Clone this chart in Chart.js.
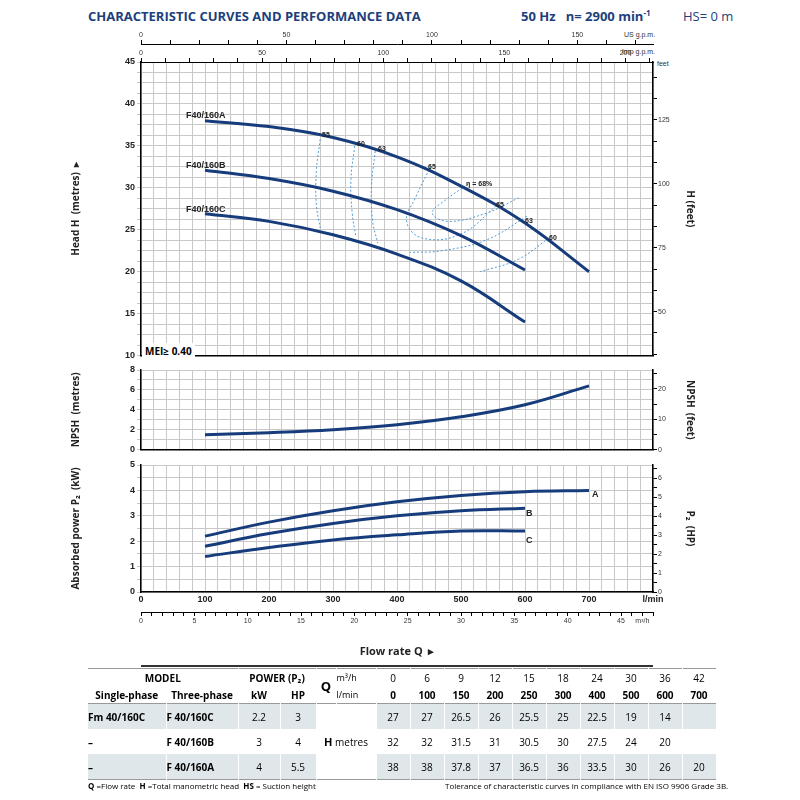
<!DOCTYPE html>
<html><head><meta charset="utf-8">
<script src="https://cdn.jsdelivr.net/npm/chart.js@4/dist/chart.umd.min.js"></script>
<style>
body{margin:0;width:800px;height:800px;background:#fff;font-family:"Open Sans",Arial,sans-serif;position:relative;overflow:hidden}
.abs{position:absolute}
canvas{position:absolute}
.lbl{position:absolute;font:bold 9px "Liberation Sans Narrow","Liberation Sans",Arial;color:#222}
.eff{position:absolute;font:bold 7px "Liberation Sans";color:#222}
table{border-collapse:collapse;font-size:10px;font-family:"Open Sans";table-layout:fixed;line-height:12px}
td{text-align:center;padding:0;border-right:1px solid #fff;overflow:hidden;white-space:nowrap}
.sh td{background:#dfe7ea}
.hd td{height:17px}
.dt td{height:25px}
</style></head><body>
<div class="abs" style="left:88px;top:7px;font:bold 13px 'Open Sans';color:#1d3f7c">CHARACTERISTIC CURVES AND PERFORMANCE DATA</div>
<div class="abs" style="left:521px;top:7px;font:bold 13px 'Open Sans';color:#1d3f7c">50 Hz &nbsp;&nbsp;n= 2900 min<sup style="font-size:8px">-1</sup></div>
<div class="abs" style="left:683px;top:7px;font:13px 'Open Sans';color:#1d3f7c">HS= 0 m</div>
<div class="abs" style="left:624px;top:31px;font:7px 'Liberation Sans';color:#333;background:#fff">US g.p.m.</div>
<div class="abs" style="left:622px;top:48px;font:7px 'Liberation Sans';color:#333;background:#fff">Imp g.p.m.</div>
<div class="abs" style="left:657px;top:60px;font:7px 'Liberation Sans';color:#333">feet</div>
<canvas id="head" style="left:70px;top:25px"></canvas>
<canvas id="npsh" style="left:70px;top:362px"></canvas>
<canvas id="pow" style="left:70px;top:457px"></canvas>
<div class="abs" style="left:142px;top:343px;background:#fff;font:bold 10px 'Open Sans';padding:1px 3px">MEI≥ 0.40</div>
<div class="lbl" style="left:186px;top:110px">F40/160A</div>
<div class="lbl" style="left:186px;top:160px">F40/160B</div>
<div class="lbl" style="left:186px;top:204px">F40/160C</div>
<div class="eff" style="left:322px;top:131px">55</div>
<div class="eff" style="left:357px;top:140px">60</div>
<div class="eff" style="left:378px;top:145px">63</div>
<div class="eff" style="left:428px;top:163px">65</div>
<div class="eff" style="left:466px;top:180px">η = 68%</div>
<div class="eff" style="left:496px;top:201px">65</div>
<div class="eff" style="left:525px;top:217px">63</div>
<div class="eff" style="left:549px;top:234px">60</div>
<div class="lbl" style="left:592px;top:489px">A</div>
<div class="lbl" style="left:526px;top:508px">B</div>
<div class="lbl" style="left:526px;top:535px">C</div>
<div class="abs" style="left:141px;top:665px;width:512px;border-top:2px solid #333"></div>
<table class="abs" style="left:88px;top:668px;width:628px">
<colgroup><col style="width:78px"><col style="width:72px"><col style="width:42px"><col style="width:36px"><col style="width:20px"><col style="width:40px">
<col span="10" style="width:34px"></colgroup>
<tr class="hd" style="border-top:1px solid #999"><td colspan="2" style="font-weight:bold">MODEL</td><td colspan="2" style="font-weight:bold">POWER (P₂)</td><td rowspan="2" style="font-weight:bold;font-size:13px">Q</td><td style="font-size:9px;text-align:left">m³/h</td>
<td>0</td><td>6</td><td>9</td><td>12</td><td>15</td><td>18</td><td>24</td><td>30</td><td>36</td><td>42</td></tr>
<tr class="hd" style="font-weight:bold;border-bottom:1px solid #999"><td>Single-phase</td><td>Three-phase</td><td>kW</td><td>HP</td><td style="font-weight:normal;font-size:9px;text-align:left">l/min</td>
<td>0</td><td>100</td><td>150</td><td>200</td><td>250</td><td>300</td><td>400</td><td>500</td><td>600</td><td>700</td></tr>
<tr class="sh dt"><td style="font-weight:bold;text-align:left">Fm 40/160C</td><td style="font-weight:bold;text-align:left">F 40/160C</td><td>2.2</td><td>3</td><td colspan="2" rowspan="3" style="background:#fff;font-size:10px"><b style="font-size:11px">H</b> metres</td>
<td>27</td><td>27</td><td>26.5</td><td>26</td><td>25.5</td><td>25</td><td>22.5</td><td>19</td><td>14</td><td></td></tr>
<tr class="dt"><td style="font-weight:bold;text-align:left">–</td><td style="font-weight:bold;text-align:left">F 40/160B</td><td>3</td><td>4</td>
<td>32</td><td>32</td><td>31.5</td><td>31</td><td>30.5</td><td>30</td><td>27.5</td><td>24</td><td>20</td><td></td></tr>
<tr class="sh dt" style="border-bottom:1px solid #999"><td style="font-weight:bold;text-align:left">–</td><td style="font-weight:bold;text-align:left">F 40/160A</td><td>4</td><td>5.5</td>
<td>38</td><td>38</td><td>37.8</td><td>37</td><td>36.5</td><td>36</td><td>33.5</td><td>30</td><td>26</td><td>20</td></tr>
</table>
<div class="abs" style="left:88px;top:780px;font:8px 'Open Sans'"><b>Q</b> =Flow rate &nbsp;<b>H</b> =Total manometric head &nbsp;<b>HS</b> = Suction height</div>
<div class="abs" style="left:445px;top:780px;font:8px 'Open Sans'">Tolerance of characteristic curves in compliance with EN ISO 9906 Grade 3B.</div>
<script>
// data
const qA = [100, 200, 300, 400, 500, 600, 700];
const hA = [38, 37.3, 36, 33.7, 30.2, 25.8, 20];
const qBC = [100, 200, 300, 400, 500, 600];
const hB = [32.1, 31.1, 29.6, 27.4, 24.3, 20.2];
const hC = [26.9, 26, 24.4, 22.1, 18.9, 14];
const qN = [100, 200, 300, 400, 500, 600, 700];
const npsh = [1.5, 1.7, 2.0, 2.5, 3.3, 4.5, 6.4];
const pA = [2.2, 2.75, 3.2, 3.55, 3.8, 3.95, 4.0];
const pB = [1.8, 2.3, 2.7, 3.0, 3.2, 3.3];
const pC = [1.4, 1.75, 2.05, 2.25, 2.4, 2.4];
// iso-efficiency contours [Q, H]
const eff55 = [[280,35.8],[274,32],[274,28],[280,25.2]];
const eff60 = [[334,35],[328,31],[330,27],[336,24.1]];
const eff63 = [[366,34.4],[360,30],[362,26],[370,23.4]];
const eff65 = [[453,32.6],[430,29],[415,26],[440,24],[500,24.5],[560,28.2]];
const eff68 = [[512,30.5],[475,28.5],[455,27],[480,26],[540,27],[590,28.8]];
const eff63r = [[603,26.6],[540,23.8],[470,22.5],[420,22.3]];
const eff60r = [[642,24.3],[590,21.5],[530,20]];

const BLUE = '#163c7c', GRID = '#c8c8c8';
const pts = (xs, ys) => xs.map((x, i) => ({x, y: ys[i]}));
const pairs = a => a.map(p => ({x: p[0], y: p[1]}));
const fnt = {family: 'Liberation Sans', size: 9, weight: 'bold'};
const small = {family: 'Liberation Sans', size: 7};

function fitW(w) { return s => { s.width = w; }; }
function fitH(h) { return s => { s.height = h; }; }
function curve(data, dashed) {
  return dashed
    ? {data, borderColor: '#4f9bd4', borderWidth: 1, borderDash: [2, 2], pointRadius: 0, tension: 0.4, showLine: true}
    : {data, borderColor: BLUE, borderWidth: 3, pointRadius: 0, tension: 0.4, showLine: true};
}
function xMain() {
  return {type: 'linear', min: 0, max: 800, afterBuildTicks: s => { s.ticks = []; for (let v = 0; v <= 800; v += 20) s.ticks.push({value: v}); },
    grid: {color: GRID, tickLength: 0}, border: {color: '#000', width: 1.5}, ticks: {display: false}, afterFit: fitH(2)};
}
function yLeft(min, max, minor, major, title, w) {
  return {position: 'left', min, max,
    afterBuildTicks: s => { s.ticks = []; for (let v = min; v <= max + 1e-6; v += minor) s.ticks.push({value: +v.toFixed(3)}); },
    grid: {color: GRID, tickLength: 4}, border: {color: '#000', width: 1.5},
    ticks: {font: fnt, color: '#222', padding: 2, autoSkip: false, callback: v => Math.abs(v / major - Math.round(v / major)) < 1e-6 ? v : ''},
    title: {display: true, text: title, font: {family: 'Open Sans', size: 10, weight: 'bold'}, color: '#222', padding: 0},
    afterFit: fitW(w)};
}
function yRight(min, max, step, label, title, w) {
  return {position: 'right', min, max,
    afterBuildTicks: s => { s.ticks = []; for (let v = Math.ceil(min / step - 1e-6) * step; v <= max; v += step) s.ticks.push({value: v}); },
    grid: {drawOnChartArea: false, tickLength: 4, color: '#000'}, border: {color: '#000', width: 1.5},
    ticks: {font: small, color: '#333', padding: 1, autoSkip: false, callback: v => { const r = Math.round(v); return (Math.abs(v - r) < 0.01 && r % label === 0) ? r : ''; }},
    title: {display: true, text: title, font: {family: 'Open Sans', size: 10, weight: 'bold'}, color: '#222', padding: 4},
    afterFit: fitW(w)};
}
function topAxis(max, labelStep, off) {
  return {type: 'linear', position: 'top', min: 0, max,
    afterBuildTicks: s => { s.ticks = []; for (let v = 0; v <= max; v += 10) s.ticks.push({value: v}); },
    grid: {drawOnChartArea: false, tickLength: 4, color: '#000'}, border: {color: '#000'},
    ticks: {font: small, color: '#333', padding: 1, autoSkip: false, maxRotation: 0, callback: v => v % labelStep === 0 ? v : ''},
    afterFit: fitH(off)};
}

function mk(id, w, h, datasets, scales, pad) {
  const c = document.getElementById(id); c.width = w; c.height = h;
  return new Chart(c, {type: 'scatter', data: {datasets}, options: {
    responsive: false, animation: false, layout: {padding: pad || 0},
    plugins: {legend: {display: false}, tooltip: {enabled: false}}, scales}});
}

mk('head', 630, 338, [
  curve(pts(qA, hA)), curve(pts(qBC, hB)), curve(pts(qBC, hC)),
  curve(pairs(eff55), 1), curve(pairs(eff60), 1), curve(pairs(eff63), 1), curve(pairs(eff65), 1),
  curve(pairs(eff68), 1), curve(pairs(eff63r), 1), curve(pairs(eff60r), 1)
], {
  x: xMain(),
  us: topAxis(800 / 3.785, 50, 18),
  imp: topAxis(800 / 4.546, 50, 19),
  y: yLeft(10, 45, 1.25, 5, 'Head H  (metres)  ▸', 71),
  yf: yRight(10 * 3.2808, 45 * 3.2808, 25 / 3, 25, 'H (feet)', 47)
});

mk('npsh', 630, 95, [curve(pts(qN, npsh))], {
  x: xMain(),
  y: yLeft(0, 8, 1, 2, 'NPSH  (metres)', 71),
  yf: yRight(0, 8 * 3.2808, 5, 10, 'NPSH  (feet)', 47)
}, {top: 8});

mk('pow', 630, 205, [curve(pts(qN, pA)), curve(pts(qBC, pB)), curve(pts(qBC, pC))], {
  x: {type: 'linear', min: 0, max: 800,
    afterBuildTicks: s => { s.ticks = []; for (let v = 0; v <= 800; v += 20) s.ticks.push({value: v}); },
    grid: {color: GRID, tickLength: 0}, border: {color: '#000', width: 1.5},
    ticks: {font: fnt, color: '#222', autoSkip: false, maxRotation: 0, padding: 2, callback: v => v % 100 === 0 ? (v === 800 ? 'l/min' : v) : ''},
    afterFit: fitH(20)},
  m3: {type: 'linear', position: 'bottom', min: 0, max: 48,
    afterBuildTicks: s => { s.ticks = []; for (let v = 0; v <= 48; v += 1) s.ticks.push({value: v}); },
    grid: {drawOnChartArea: false, tickLength: 4, color: '#000'}, border: {color: '#000'},
    ticks: {font: small, color: '#333', autoSkip: false, maxRotation: 0, padding: 1, callback: v => v % 5 === 0 ? v : (v === 47 ? 'm³/h' : '')},
    title: {display: true, text: 'Flow rate Q  ▸', font: {family: 'Open Sans', size: 11, weight: 'bold'}, color: '#222', padding: {top: 6}},
    afterFit: fitH(50)},
  y: yLeft(0, 5, 0.5, 1, 'Absorbed power P₂  (kW)', 71),
  yf: yRight(0, 5 * 1.341, 0.5, 1, 'P₂  (HP)', 47)
}, {top: 8});
</script>
</body></html>
